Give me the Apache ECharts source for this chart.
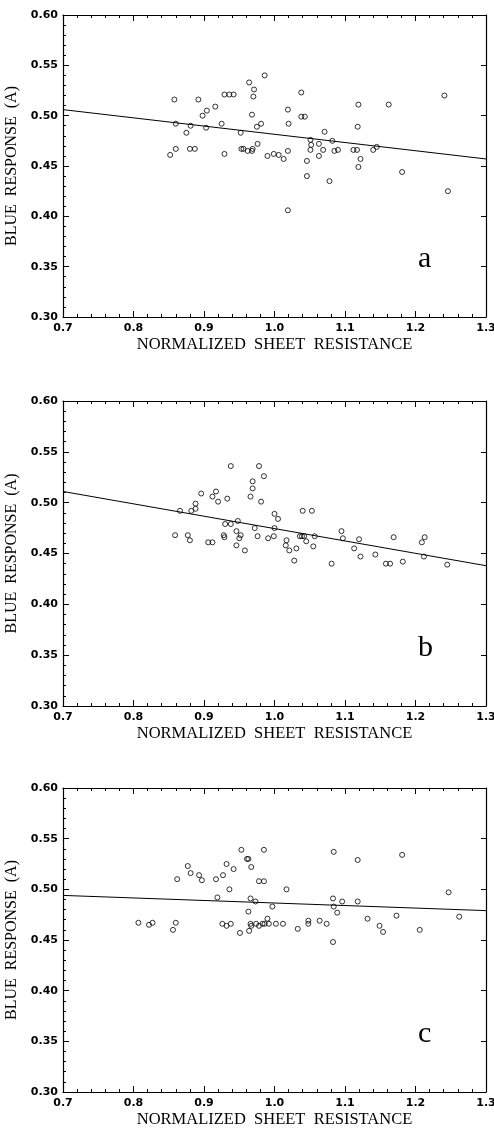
<!DOCTYPE html>
<html>
<head>
<meta charset="utf-8">
<script src="https://cdn.jsdelivr.net/npm/echarts@6/dist/echarts.min.js"></script>
<style>
  html, body { margin: 0; padding: 0; background: #fff; }
  #chart { width: 494px; height: 1128px; }
</style>
</head>
<body>
<div id="chart"></div>
<script>
// Точки [сопротивление, отклик] для трёх панелей
const pointsA = [
    [0.852, 0.461], [0.858, 0.516], [0.860, 0.492], [0.860, 0.467], [0.875, 0.483],
    [0.881, 0.490], [0.880, 0.467], [0.887, 0.467], [0.892, 0.516], [0.898, 0.500],
    [0.904, 0.505], [0.903, 0.488], [0.916, 0.509], [0.925, 0.492], [0.929, 0.462],
    [0.929, 0.521], [0.936, 0.521], [0.942, 0.521], [0.952, 0.483], [0.953, 0.467],
    [0.956, 0.467], [0.962, 0.465], [0.968, 0.465], [0.969, 0.467], [0.964, 0.533],
    [0.971, 0.526], [0.970, 0.519], [0.968, 0.501], [0.975, 0.489], [0.981, 0.492],
    [0.976, 0.472], [0.986, 0.540], [0.990, 0.460], [0.999, 0.462], [1.006, 0.461],
    [1.013, 0.457], [1.019, 0.465], [1.019, 0.506], [1.020, 0.492], [1.038, 0.523],
    [1.038, 0.499], [1.043, 0.499], [1.046, 0.455], [1.051, 0.476], [1.052, 0.471],
    [1.051, 0.466], [1.063, 0.472], [1.063, 0.460], [1.069, 0.466], [1.071, 0.484],
    [1.082, 0.475], [1.085, 0.465], [1.090, 0.466], [1.112, 0.466], [1.117, 0.466],
    [1.119, 0.511], [1.118, 0.489], [1.122, 0.457], [1.119, 0.449], [1.140, 0.466],
    [1.145, 0.469], [1.162, 0.511], [1.181, 0.444], [1.241, 0.520], [1.046, 0.440],
    [1.078, 0.435], [1.019, 0.406], [1.246, 0.425]
];

const pointsB = [
    [0.938, 0.536], [0.978, 0.536], [0.985, 0.526], [0.969, 0.521], [0.969, 0.514],
    [0.966, 0.506], [0.981, 0.501], [0.896, 0.509], [0.917, 0.511], [0.912, 0.506],
    [0.920, 0.501], [0.933, 0.504], [0.888, 0.499], [0.888, 0.494], [0.866, 0.492],
    [0.882, 0.492], [1.000, 0.489], [1.005, 0.484], [1.040, 0.492], [1.053, 0.492],
    [0.930, 0.479], [0.938, 0.479], [0.948, 0.482], [0.946, 0.472], [0.972, 0.475],
    [1.000, 0.475], [1.095, 0.472],
    [0.859, 0.468], [0.877, 0.468], [0.880, 0.463], [0.906, 0.461], [0.912, 0.461],
    [0.928, 0.468], [0.929, 0.466], [0.946, 0.458], [0.952, 0.468], [0.950, 0.465],
    [0.958, 0.453], [0.976, 0.467], [0.991, 0.465], [0.999, 0.467], [1.017, 0.463],
    [1.016, 0.458], [1.021, 0.453], [1.031, 0.455], [1.028, 0.443], [1.036, 0.467],
    [1.039, 0.467], [1.042, 0.467], [1.045, 0.462], [1.055, 0.457], [1.057, 0.467],
    [1.081, 0.440], [1.097, 0.465], [1.113, 0.455], [1.120, 0.464], [1.122, 0.447],
    [1.143, 0.449], [1.158, 0.440], [1.164, 0.440], [1.169, 0.466], [1.182, 0.442],
    [1.209, 0.461], [1.213, 0.466], [1.212, 0.447], [1.245, 0.439]
];

const pointsC = [
    [0.862, 0.510], [0.877, 0.523], [0.881, 0.516], [0.893, 0.514], [0.897, 0.509],
    [0.917, 0.510], [0.927, 0.514], [0.932, 0.525], [0.936, 0.500], [0.942, 0.520],
    [0.953, 0.539], [0.961, 0.530], [0.963, 0.530], [0.967, 0.522], [0.978, 0.508],
    [0.985, 0.508], [0.985, 0.539], [1.017, 0.500], [1.084, 0.537], [1.118, 0.529],
    [1.181, 0.534], [1.247, 0.497], [0.919, 0.492], [0.966, 0.491], [0.973, 0.488],
    [1.083, 0.491], [1.096, 0.488], [1.118, 0.488],
    [0.997, 0.483], [1.084, 0.483], [1.089, 0.477], [0.963, 0.478], [0.807, 0.467],
    [0.822, 0.465], [0.827, 0.467], [0.856, 0.460], [0.860, 0.467], [0.926, 0.466],
    [0.932, 0.464], [0.938, 0.466], [0.951, 0.457], [0.964, 0.459], [0.966, 0.466],
    [0.967, 0.464], [0.974, 0.466], [0.978, 0.464], [0.983, 0.466], [0.986, 0.466],
    [0.990, 0.471], [0.992, 0.466], [1.002, 0.466], [1.012, 0.466], [1.033, 0.461],
    [1.048, 0.469], [1.048, 0.466], [1.064, 0.469], [1.074, 0.466], [1.083, 0.448],
    [1.132, 0.471], [1.149, 0.464], [1.154, 0.458], [1.173, 0.474], [1.206, 0.460],
    [1.262, 0.473]
];

// Линии регрессии (концы на краях оси)
const fitA = [[0.7, 0.506], [1.3, 0.457]];
const fitB = [[0.7, 0.511], [1.3, 0.438]];
const fitC = [[0.7, 0.494], [1.3, 0.479]];

const panelLetters = ['a', 'b', 'c'];
const xTitle = 'NORMALIZED  SHEET  RESISTANCE';
const yTitle = 'BLUE  RESPONSE  (A)';

const grids = [
    { left: 63, top: 15, width: 423, height: 302 },
    { left: 63, top: 401, width: 423, height: 305 },
    { left: 63, top: 788, width: 423, height: 304 }
];

const labelFont = 'DejaVu Sans';
const titleFont = 'Liberation Serif';

const option = {
    backgroundColor: '#fff',
    animation: false,
    grid: grids.map(function (g) {
        return Object.assign({ outerBoundsMode: 'none', containLabel: false }, g);
    }),
    xAxis: [],
    yAxis: [],
    series: [],
    graphic: []
};

const allPoints = [pointsA, pointsB, pointsC];
const allFits = [fitA, fitB, fitC];

allPoints.forEach(function (points, i) {
    // нижняя ось с подписями
    option.xAxis.push({
        gridIndex: i,
        type: 'value',
        position: 'bottom',
        min: 0.7,
        max: 1.3,
        interval: 0.1,
        name: xTitle,
        nameLocation: 'middle',
        nameGap: 19,
        nameTextStyle: { color: '#000', fontFamily: titleFont, fontSize: 16.5 },
        axisLine: { show: true, lineStyle: { color: '#000', width: 1.2 } },
        axisTick: { show: true, inside: true, length: 6, lineStyle: { color: '#000', width: 1 } },
        minorTick: { show: true, splitNumber: 5, length: 3, lineStyle: { color: '#000', width: 1 } },
        splitLine: { show: false },
        axisLabel: {
            color: '#000',
            fontFamily: labelFont,
            fontWeight: 'bold',
            fontSize: 11,
            margin: 6,
            showMinLabel: true,
            showMaxLabel: true,
            formatter: function (v) { return v.toFixed(1); }
        }
    });
    // верхняя ось — только засечки
    option.xAxis.push({
        gridIndex: i,
        type: 'value',
        position: 'top',
        min: 0.7,
        max: 1.3,
        interval: 0.1,
        axisLine: { show: true, lineStyle: { color: '#000', width: 1.2 } },
        axisTick: { show: true, inside: true, length: 6, lineStyle: { color: '#000', width: 1 } },
        minorTick: { show: true, splitNumber: 5, length: 3, lineStyle: { color: '#000', width: 1 } },
        splitLine: { show: false },
        axisLabel: { show: false }
    });
    option.yAxis.push({
        gridIndex: i,
        type: 'value',
        position: 'left',
        min: 0.3,
        max: 0.6,
        interval: 0.05,
        name: yTitle,
        nameLocation: 'middle',
        nameGap: 31,
        nameTextStyle: { color: '#000', fontFamily: titleFont, fontSize: 16 },
        axisLine: { show: true, lineStyle: { color: '#000', width: 1.2 } },
        axisTick: { show: true, inside: true, length: 6, lineStyle: { color: '#000', width: 1 } },
        minorTick: { show: true, splitNumber: 5, length: 3, lineStyle: { color: '#000', width: 1 } },
        splitLine: { show: false },
        axisLabel: {
            color: '#000',
            fontFamily: labelFont,
            fontWeight: 'bold',
            fontSize: 11,
            margin: 5,
            showMinLabel: true,
            showMaxLabel: true,
            formatter: function (v) { return v.toFixed(2); }
        }
    });
    option.yAxis.push({
        gridIndex: i,
        type: 'value',
        position: 'right',
        min: 0.3,
        max: 0.6,
        interval: 0.05,
        axisLine: { show: true, lineStyle: { color: '#000', width: 1.2 } },
        axisTick: { show: true, inside: true, length: 5, lineStyle: { color: '#000', width: 1 } },
        splitLine: { show: false },
        axisLabel: { show: false }
    });

    option.series.push({
        type: 'line',
        xAxisIndex: i * 2,
        yAxisIndex: i * 2,
        data: allFits[i],
        symbol: 'none',
        silent: true,
        lineStyle: { color: '#000', width: 1 },
        z: 2
    });
    option.series.push({
        type: 'scatter',
        xAxisIndex: i * 2,
        yAxisIndex: i * 2,
        data: points,
        symbol: 'circle',
        symbolSize: 5,
        itemStyle: { color: 'rgba(0,0,0,0)', borderColor: '#000', borderWidth: 1 },
        z: 3
    });

    // буква панели
    const g = grids[i];
    option.graphic.push({
        type: 'text',
        left: 418,
        top: g.top + g.height - 49 - 24,
        style: {
            text: panelLetters[i],
            font: '30px "Liberation Serif"',
            fill: '#000'
        }
    });
});

const chart = echarts.init(document.getElementById('chart'), null, { renderer: 'canvas' });
chart.setOption(option);
</script>
</body>
</html>
